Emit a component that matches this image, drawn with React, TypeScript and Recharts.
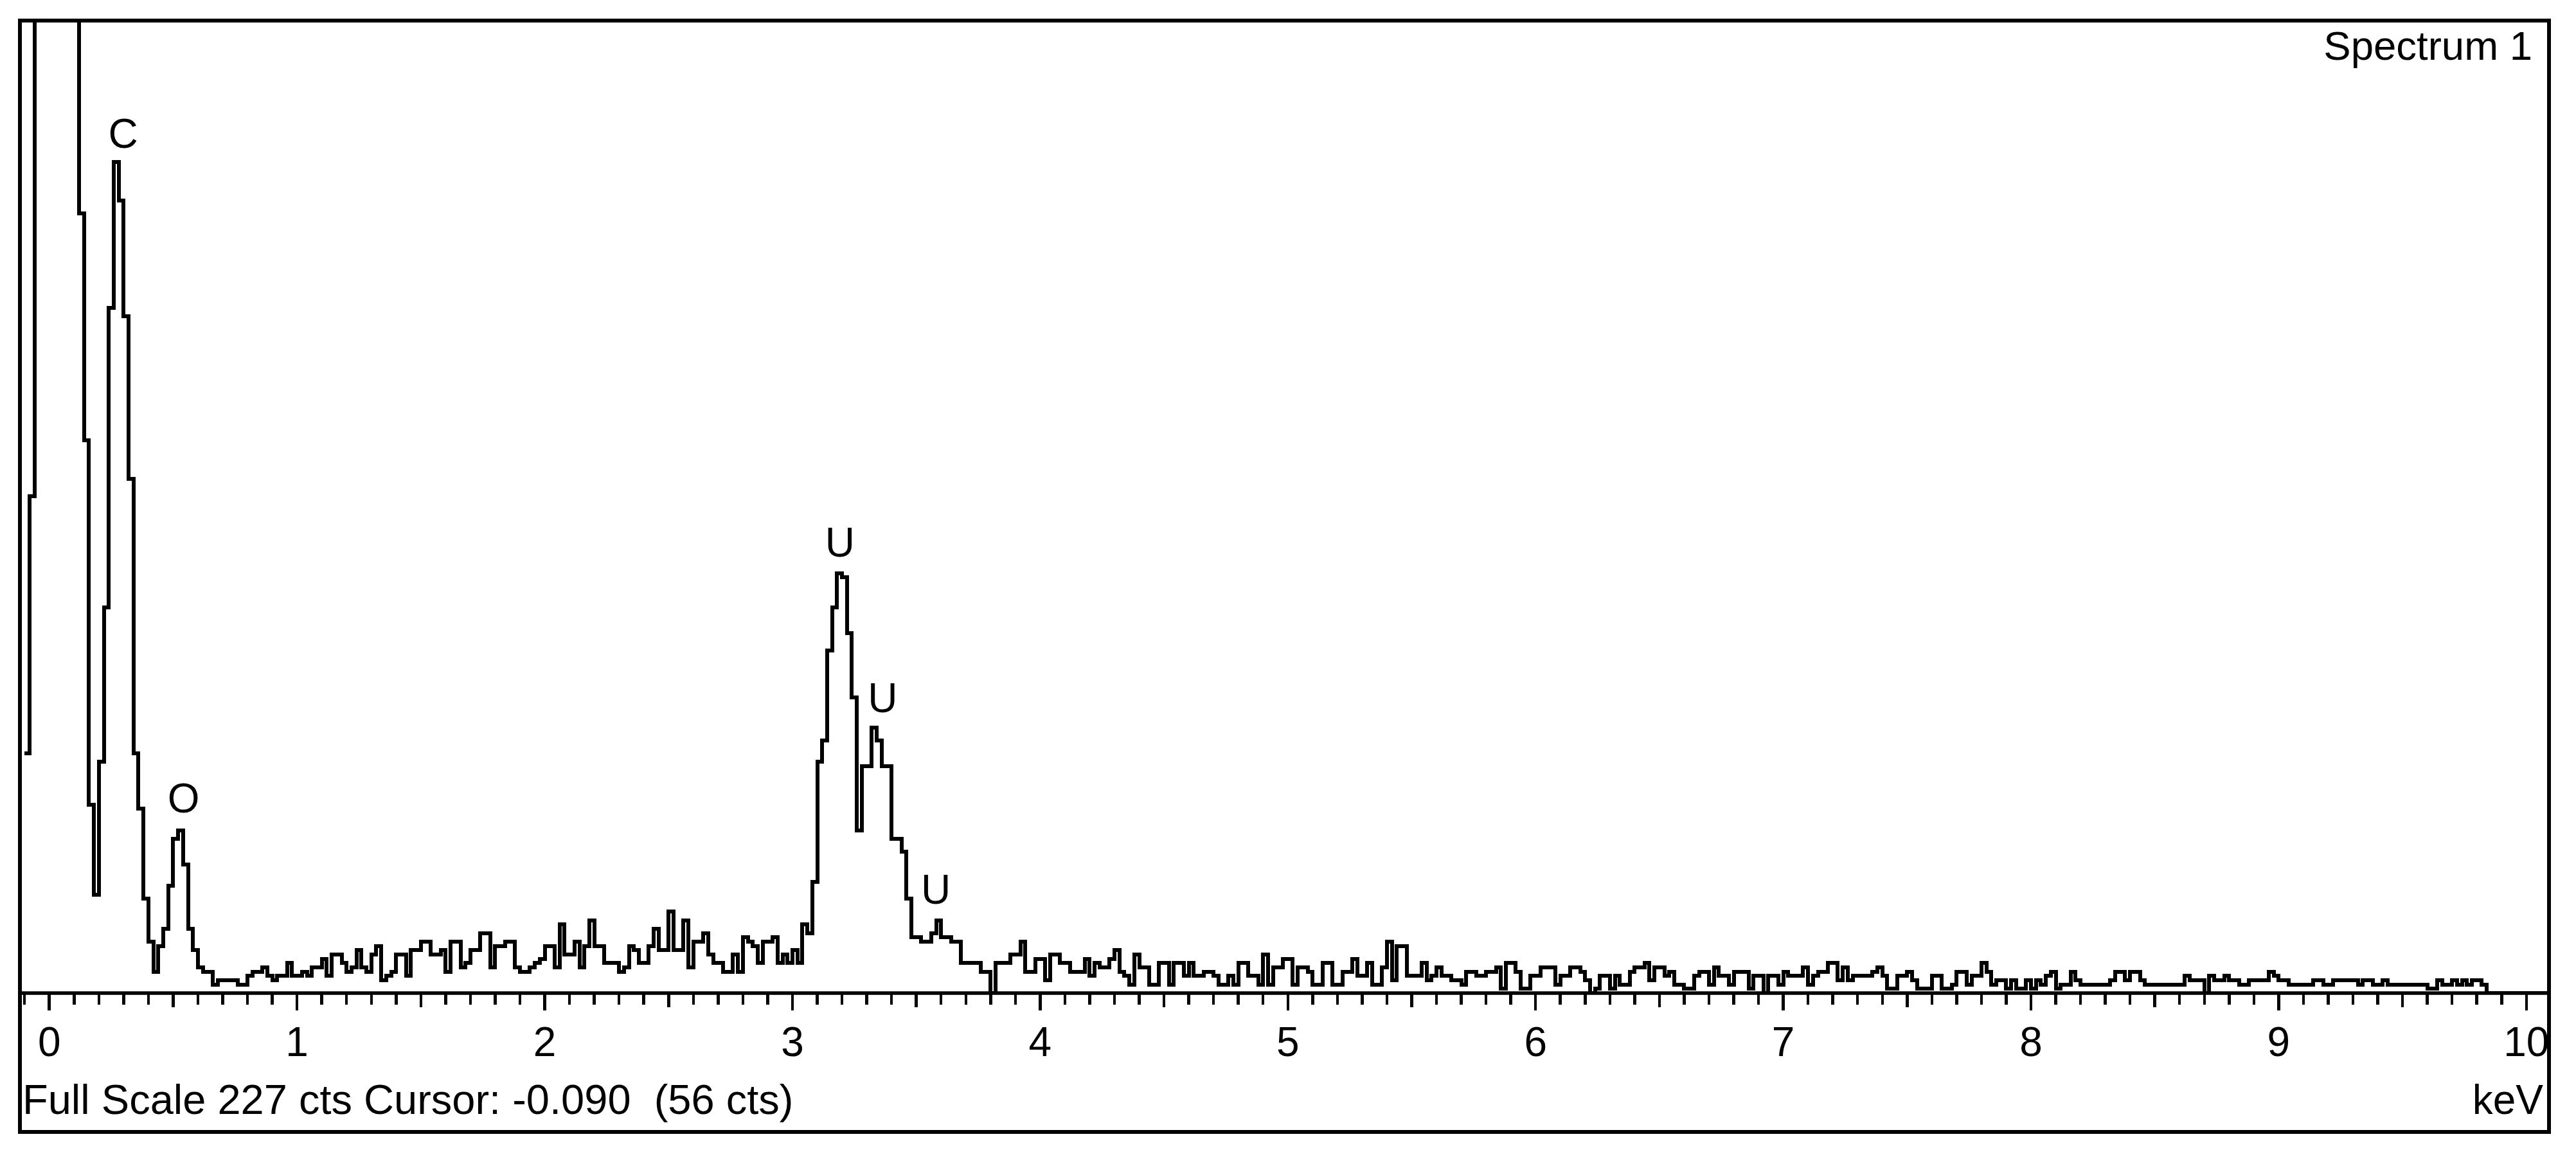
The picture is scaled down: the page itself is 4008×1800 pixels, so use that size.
import React from 'react';
import { LineChart, Line, XAxis, YAxis, ReferenceDot } from 'recharts';

const W = 4008;
const H = 1800;
const FONT = '"Liberation Sans", Arial, Helvetica, sans-serif';

// 20 eV channels, the first one starts at -0.10 keV
const FIRST_KEV = -0.1;
const CHANNEL_KEV = 0.02;

// counts per channel (values above full scale are clipped)
const countsBelowZero = [56, 116, 310, 720, 1250];
const counts0to1 = [
  1650, 1500, 1100, 760, 460, 260, 182, 129, 44, 23,
  54, 90, 160, 194, 185, 158, 120, 56, 43, 22,
  12, 5, 11, 15, 25, 36, 38, 30, 15, 10,
  6, 5, 5, 2, 3, 3, 3, 3, 2, 2,
  4, 5, 5, 6, 4, 3, 4, 4, 7, 4,
];
const counts1to2 = [
  4, 5, 4, 6, 6, 8, 4, 9, 9, 7,
  5, 6, 10, 6, 5, 9, 11, 3, 4, 5,
  9, 9, 4, 10, 10, 12, 12, 9, 9, 10,
  5, 12, 12, 6, 7, 10, 10, 14, 14, 6,
  11, 11, 12, 12, 6, 5, 5, 6, 7, 8,
];
const counts2to3 = [
  11, 11, 6, 16, 9, 9, 12, 6, 11, 17,
  11, 11, 7, 7, 7, 5, 6, 11, 10, 7,
  7, 11, 15, 10, 10, 19, 10, 10, 17, 6,
  12, 12, 14, 9, 7, 7, 5, 5, 9, 5,
  13, 12, 11, 7, 12, 12, 13, 7, 9, 7,
];
const counts3to4 = [
  10, 7, 16, 14, 26, 54, 59, 80, 90, 98,
  97, 84, 69, 38, 53, 53, 62, 59, 53, 53,
  36, 36, 33, 22, 13, 13, 12, 12, 14, 17,
  13, 13, 12, 12, 7, 7, 7, 7, 5, 5,
  0, 7, 7, 7, 9, 9, 12, 5, 5, 8,
];
const counts4to5 = [
  8, 3, 9, 9, 7, 7, 5, 5, 5, 8,
  4, 7, 6, 6, 8, 10, 5, 4, 2, 9,
  6, 6, 2, 2, 7, 7, 2, 7, 7, 4,
  7, 4, 4, 5, 5, 4, 2, 2, 4, 2,
  7, 7, 4, 4, 2, 9, 2, 6, 6, 8,
];
const counts5to6 = [
  8, 2, 6, 6, 5, 2, 2, 7, 7, 2,
  2, 5, 5, 8, 4, 4, 7, 2, 2, 6,
  12, 3, 11, 11, 4, 4, 4, 7, 3, 4,
  6, 4, 4, 3, 3, 2, 5, 5, 4, 4,
  5, 5, 6, 1, 7, 7, 5, 1, 1, 4,
];
const counts6to7 = [
  4, 6, 6, 6, 2, 4, 4, 6, 6, 5,
  3, 0, 1, 4, 4, 1, 4, 2, 2, 5,
  6, 6, 7, 3, 6, 6, 4, 5, 2, 2,
  1, 1, 4, 5, 5, 2, 6, 4, 4, 2,
  5, 5, 5, 1, 4, 4, 0, 4, 4, 2,
];
const counts7to8 = [
  5, 4, 4, 4, 6, 2, 4, 5, 5, 7,
  7, 3, 6, 3, 4, 4, 4, 4, 5, 6,
  4, 1, 1, 4, 4, 5, 3, 1, 1, 1,
  4, 4, 1, 1, 2, 5, 5, 2, 4, 4,
  7, 5, 2, 3, 3, 1, 3, 1, 1, 3,
];
const counts8to9 = [
  1, 3, 2, 4, 5, 1, 2, 2, 5, 3,
  2, 2, 2, 2, 2, 2, 3, 5, 5, 3,
  5, 5, 3, 2, 2, 2, 2, 2, 2, 2,
  2, 4, 3, 3, 3, 0, 4, 3, 3, 4,
  3, 3, 2, 2, 3, 3, 3, 3, 5, 4,
];
const counts9to10 = [
  3, 3, 2, 2, 2, 2, 2, 3, 3, 2,
  2, 3, 3, 3, 3, 3, 2, 3, 3, 2,
  2, 3, 2, 2, 2, 2, 2, 2, 2, 2,
  1, 1, 3, 2, 2, 3, 2, 3, 2, 3,
  3, 2, 0, 0, 0, 0, 0, 0, 0, 0,
  0, 0, 0, 0, 0, 0,
];

const majorTicks = [0, 1, 2, 3, 4, 5, 6, 7, 8, 9, 10];

const peakLabels = [
  { element: 'C', keV: 0.298, cts: 200.7 },
  { element: 'O', keV: 0.542, cts: 45.5 },
  { element: 'U', keV: 3.192, cts: 105.3 },
  { element: 'U', keV: 3.364, cts: 68.9 },
  { element: 'U', keV: 3.579, cts: 24.2 },
];

const spectrumName = 'Spectrum 1';
const fullScale = 227;
const cursorKeV = '-0.090';
const cursorCounts = 56;

const allCounts = [
  ...countsBelowZero, ...counts0to1, ...counts1to2, ...counts2to3, ...counts3to4,
  ...counts4to5, ...counts5to6, ...counts6to7, ...counts7to8, ...counts8to9, ...counts9to10,
];
const data = allCounts.map((cts, i) => ({
  keV: Math.round((FIRST_KEV + i * CHANNEL_KEV) * 100) / 100,
  cts,
}));

// a tick every 0.1 keV, labels only on whole keV
const allTicks: number[] = [];
for (let t = -1; t <= 100; t++) allTicks.push(t / 10);

const KevTick = (props: any) => {
  const { x, y, payload } = props;
  const v = payload.value;
  const tenth = Math.round(v * 10);
  const major = majorTicks.includes(v);
  const half = !major && Math.abs(tenth % 10) === 5;
  const len = major ? 27 : half ? 22 : 18;
  return (
    <g>
      <line x1={x} y1={y} x2={x} y2={y + len} stroke="#000" strokeWidth={4.5} shapeRendering="crispEdges" />
      {major && (
        <text x={x} y={y + 98} textAnchor="middle" fontSize={64} fontFamily={FONT} fill="#000">
          {v}
        </text>
      )}
    </g>
  );
};

export default function App() {
  return (
    <div style={{ position: 'absolute', left: 0, top: 0, width: W, height: H, background: '#fff' }}>
      <LineChart
        width={W}
        height={H}
        data={data}
        margin={{ top: 32, right: 42.5, bottom: 135, left: 30.5 }}
      >
        <XAxis
          dataKey="keV"
          type="number"
          domain={[-0.12, 10.09]}
          allowDataOverflow
          ticks={allTicks}
          interval={0}
          tickSize={0}
          tickMargin={0}
          height={120}
          axisLine={{ stroke: '#000', strokeWidth: 5.5 }}
          tickLine={false}
          tick={(p: any) => <KevTick {...p} />}
        />
        <YAxis hide domain={[0, fullScale]} allowDataOverflow />
        <Line
          type="stepAfter"
          dataKey="cts"
          stroke="#000"
          strokeWidth={6}
          shapeRendering="crispEdges"
          dot={false}
          isAnimationActive={false}
        />
        {peakLabels.map((p, i) => (
          <ReferenceDot
            key={i}
            x={p.keV}
            y={p.cts}
            r={0}
            fill="none"
            stroke="none"
            label={{ value: p.element, position: 'center', fontSize: 64, fill: '#000', fontFamily: FONT }}
          />
        ))}
      </LineChart>
      <svg
        width={W}
        height={H}
        style={{ position: 'absolute', left: 0, top: 0, pointerEvents: 'none' }}
        fontFamily={FONT}
      >
        <rect x={30.5} y={32} width={3935} height={1728.5} fill="none" stroke="#000" strokeWidth={6} shapeRendering="crispEdges" />
        <text x={3940} y={93} textAnchor="end" fontSize={63.5} fill="#000">
          {spectrumName}
        </text>
        <text x={35} y={1733} fontSize={65} fill="#000" style={{ whiteSpace: 'pre' }}>
          {`Full Scale ${fullScale} cts Cursor: ${cursorKeV}  (${cursorCounts} cts)`}
        </text>
        <text x={3957} y={1733} textAnchor="end" fontSize={64} fill="#000">
          keV
        </text>
      </svg>
    </div>
  );
}
